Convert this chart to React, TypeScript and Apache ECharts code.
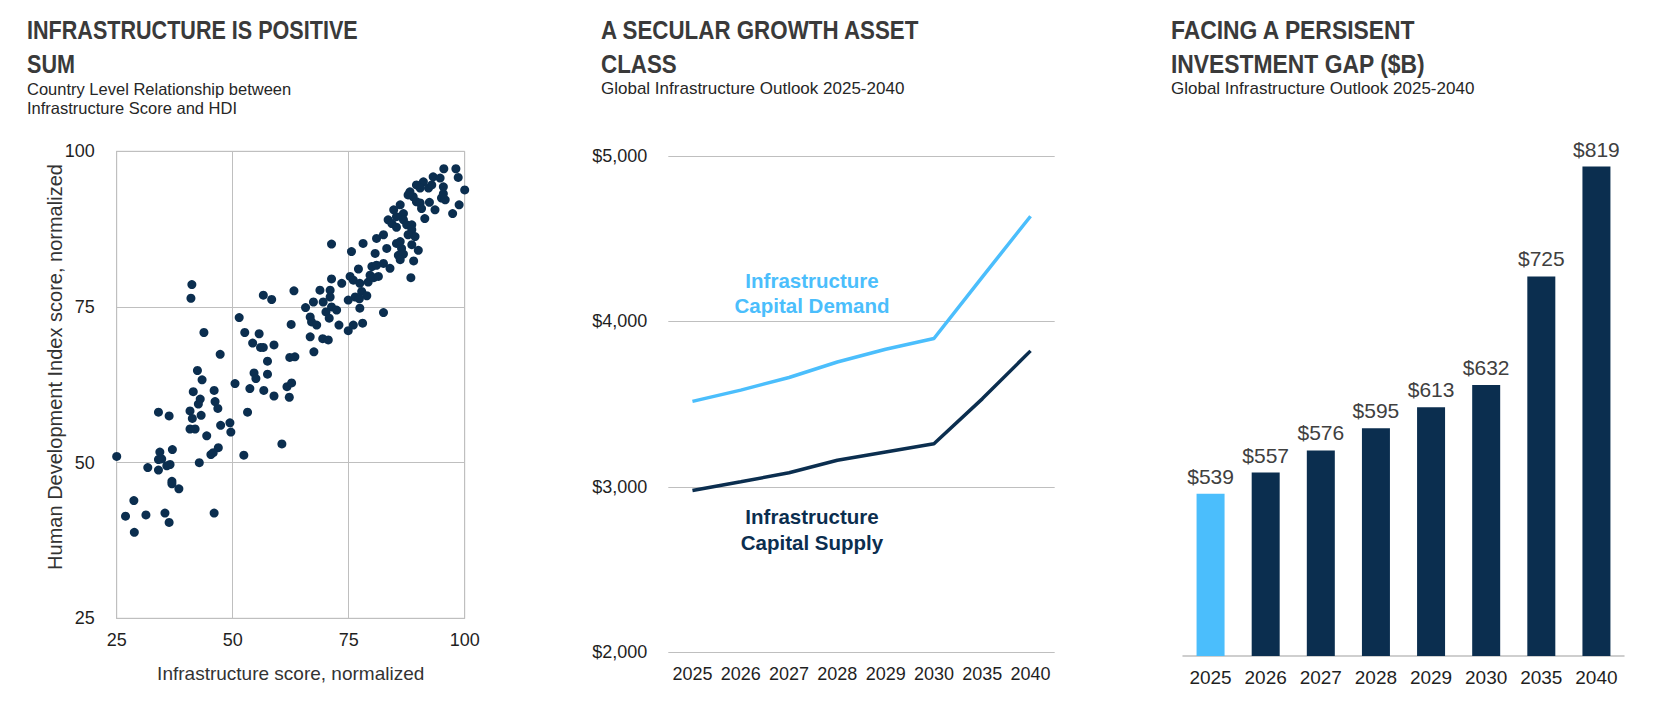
import React, { useEffect, useRef } from 'react';
import * as echarts from 'echarts';

// Palette
const NAVY = '#0B2E4F';
const SKY = '#4BBEFC';
const GRID_GREY = '#BFBFBF';
const TITLE_GREY = '#3A3A3A';
const TEXT_DARK = '#1F1F1F';

const SANS = "'Liberation Sans', Arial, sans-serif";

// Panel 1: infrastructure score (x) vs HDI score (y), one point per country
const countryPoints: [number, number][] = [
  [95.5, 97.2], [98.1, 97.2], [98.6, 95.8], [100.0, 93.8], [98.8, 91.4], [97.4, 90.0],
  [93.2, 95.9], [94.7, 95.7], [95.4, 94.3], [91.1, 95.1], [89.6, 94.6], [90.4, 94.1],
  [92.2, 94.1], [92.9, 94.6], [95.0, 92.5], [95.8, 92.2], [92.4, 91.8], [93.6, 90.6],
  [88.9, 92.7], [89.6, 91.9], [90.4, 91.7], [90.7, 90.8], [91.4, 89.2], [87.8, 93.0],
  [88.2, 93.5], [86.1, 91.4], [84.7, 90.6], [86.8, 90.0], [85.3, 89.5], [83.5, 89.0],
  [84.3, 88.4], [86.8, 89.0], [87.5, 88.2], [88.6, 88.2], [88.6, 87.4], [89.3, 86.3],
  [82.5, 86.6], [81.0, 86.0], [85.3, 85.2], [86.1, 85.5], [95.4, 93.2], [85.3, 87.8],
  [87.8, 86.6], [88.6, 85.0], [90.0, 84.1], [89.0, 82.4], [88.4, 79.7],
  [71.3, 85.1], [75.6, 83.9], [78.1, 85.2], [83.2, 84.4], [80.7, 83.6], [86.4, 84.4],
  [85.7, 83.3], [86.8, 83.5], [86.1, 82.6], [77.1, 81.1], [80.0, 81.5], [81.0, 81.7],
  [82.5, 82.0], [83.9, 81.2], [75.3, 79.9], [76.0, 79.3], [77.4, 78.8], [79.2, 79.0],
  [79.6, 80.1], [80.4, 79.7], [81.4, 79.9], [71.3, 79.5], [73.5, 78.8], [68.8, 77.7],
  [71.0, 77.7], [71.0, 76.6], [67.4, 75.8], [69.5, 75.8], [74.9, 76.1], [76.4, 76.6],
  [77.8, 77.5], [78.9, 76.8], [82.5, 74.1], [77.3, 76.3], [65.7, 74.9], [71.3, 75.0],
  [72.4, 74.5], [70.1, 74.2], [70.8, 73.2], [66.7, 73.4], [67.0, 72.6], [68.1, 72.1],
  [72.9, 72.1], [74.9, 71.2], [76.0, 72.1], [78.0, 72.4], [77.4, 74.8], [62.6, 72.2],
  [66.7, 70.2], [69.4, 69.9], [70.6, 69.7], [67.5, 67.8], [63.2, 77.6], [56.6, 76.9],
  [58.4, 76.2], [41.2, 78.6], [41.0, 76.4], [51.4, 73.3], [43.8, 70.9], [52.6, 70.9],
  [55.7, 70.7], [54.3, 69.2], [56.0, 68.5], [56.6, 68.5], [58.9, 68.9], [62.3, 66.9],
  [63.4, 67.0], [57.5, 66.3], [47.3, 67.4], [42.4, 64.8], [43.4, 63.3], [54.6, 64.4],
  [55.0, 63.5], [57.5, 64.2], [50.5, 62.7], [41.5, 61.4], [46.0, 61.6], [53.7, 61.9],
  [56.7, 61.6], [58.9, 60.7], [62.2, 60.5], [61.7, 62.2], [62.7, 62.8], [43.0, 60.2],
  [42.6, 59.4], [46.2, 59.8], [46.8, 58.7], [34.0, 58.1], [36.3, 57.5], [40.8, 58.3],
  [41.3, 57.1], [43.2, 57.6], [53.2, 58.1], [47.4, 56.0], [49.4, 56.4], [49.6, 54.9],
  [40.8, 55.4], [41.9, 55.4], [44.4, 54.3], [60.6, 53.0], [46.9, 52.4], [45.3, 51.3],
  [45.8, 51.6], [52.4, 51.2], [37.0, 52.1], [34.3, 51.7], [34.0, 50.5], [34.7, 50.6],
  [36.5, 49.7], [35.8, 49.5], [25.0, 51.0], [31.7, 49.2], [34.0, 48.8], [42.8, 50.0],
  [36.9, 47.0], [36.9, 46.6], [38.4, 45.8], [28.7, 43.9], [26.9, 41.4], [31.3, 41.6],
  [35.4, 41.9], [36.3, 40.4], [46.0, 41.9], [28.8, 38.8],
];
const scoreTicks = { min: 25, max: 100, interval: 25 };

// Panel 2: capital demand vs supply ($B)
const outlookYears = ['2025', '2026', '2027', '2028', '2029', '2030', '2035', '2040'];
const capitalDemand = [3517, 3585, 3661, 3755, 3832, 3897, 4268, 4636];
const capitalSupply = [2978, 3031, 3085, 3161, 3211, 3261, 3532, 3822];

// Panel 3: investment gap ($B)
const investmentGap = [539, 557, 576, 595, 613, 632, 725, 819];

function dollars(v: number): string {
  return '$' + v.toLocaleString('en-US');
}

// Condensed bold heading plus a regular subtitle underneath
function titleBlock(x: number, heading: string, squeeze: number, sub: string, subSize: number) {
  return [
    {
      type: 'text',
      x,
      y: 13,
      scaleX: squeeze,
      style: {
        text: heading,
        fontFamily: SANS,
        fontWeight: 'bold',
        fontSize: 26,
        lineHeight: 34,
        fill: TITLE_GREY,
        align: 'left',
        verticalAlign: 'top',
      },
    },
    {
      type: 'text',
      x,
      y: 79,
      style: {
        text: sub,
        fontFamily: SANS,
        fontSize: subSize,
        lineHeight: 19.5,
        fill: '#262626',
        align: 'left',
        verticalAlign: 'top',
      },
    },
  ];
}

export default function App() {
  const ref = useRef<HTMLDivElement>(null);

  useEffect(() => {
    if (!ref.current) return;
    const chart = echarts.init(ref.current, undefined, { renderer: 'svg' });

    const option: any = {
      animation: false,
      backgroundColor: '#ffffff',
      textStyle: { fontFamily: SANS },
      grid: [
        {
          left: 116.7, top: 151.3, width: 348, height: 467,
          show: true, borderColor: GRID_GREY, borderWidth: 1, backgroundColor: 'transparent',
        },
        { left: 668.3, top: 156, width: 386.4, height: 496.3 },
        { left: 1183, top: 72, width: 441, height: 584 },
      ],
      xAxis: [
        {
          gridIndex: 0, type: 'value', ...scoreTicks,
          axisLine: { show: true, lineStyle: { color: GRID_GREY } },
          axisTick: { show: false },
          splitLine: { show: true, lineStyle: { color: GRID_GREY } },
          axisLabel: { color: TEXT_DARK, fontSize: 18, margin: 13 },
        },
        {
          gridIndex: 1, type: 'category', data: outlookYears, boundaryGap: true,
          axisLine: { show: false }, axisTick: { show: false },
          axisLabel: { color: TEXT_DARK, fontSize: 18, margin: 13, interval: 0 },
        },
        {
          gridIndex: 2, type: 'category', data: outlookYears,
          axisLine: { show: true, lineStyle: { color: GRID_GREY, width: 1.5 } },
          axisTick: { show: false },
          axisLabel: { color: TEXT_DARK, fontSize: 19, margin: 12, interval: 0 },
        },
      ],
      yAxis: [
        {
          gridIndex: 0, type: 'value', ...scoreTicks,
          axisLine: { show: true, lineStyle: { color: GRID_GREY } },
          axisTick: { show: false },
          splitLine: { show: true, lineStyle: { color: GRID_GREY } },
          axisLabel: { color: TEXT_DARK, fontSize: 18, margin: 22 },
        },
        {
          gridIndex: 1, type: 'value', min: 2000, max: 5000, interval: 1000,
          axisLine: { show: false }, axisTick: { show: false },
          splitLine: { show: true, lineStyle: { color: GRID_GREY } },
          axisLabel: { color: TEXT_DARK, fontSize: 18, margin: 21, formatter: dollars },
        },
        {
          gridIndex: 2, type: 'value', min: 400, max: 900,
          show: false, splitLine: { show: false },
        },
      ],
      series: [
        {
          name: 'Countries',
          type: 'scatter',
          xAxisIndex: 0, yAxisIndex: 0,
          data: countryPoints,
          symbolSize: 9,
          itemStyle: { color: NAVY, opacity: 1 },
        },
        {
          name: 'Infrastructure Capital Demand',
          type: 'line',
          xAxisIndex: 1, yAxisIndex: 1,
          data: capitalDemand,
          symbol: 'none',
          lineStyle: { color: SKY, width: 3.5 },
        },
        {
          name: 'Infrastructure Capital Supply',
          type: 'line',
          xAxisIndex: 1, yAxisIndex: 1,
          data: capitalSupply,
          symbol: 'none',
          lineStyle: { color: NAVY, width: 3.5 },
        },
        {
          name: 'Investment Gap',
          type: 'bar',
          xAxisIndex: 2, yAxisIndex: 2,
          barWidth: 28,
          data: investmentGap.map((v, i) => ({
            value: v,
            itemStyle: { color: i === 0 ? SKY : NAVY },
          })),
          label: {
            show: true,
            position: 'top',
            distance: 7,
            fontSize: 21,
            color: '#404040',
            formatter: (p: any) => dollars(p.value),
          },
        },
      ],
      graphic: [
        ...titleBlock(27, 'INFRASTRUCTURE IS POSITIVE\nSUM', 0.83, 'Country Level Relationship between\nInfrastructure Score and HDI', 16.5),
        ...titleBlock(601, 'A SECULAR GROWTH ASSET\nCLASS', 0.86, 'Global Infrastructure Outlook 2025-2040', 17),
        ...titleBlock(1171, 'FACING A PERSISENT\nINVESTMENT GAP ($B)', 0.88, 'Global Infrastructure Outlook 2025-2040', 17),
        {
          type: 'text',
          x: 290.7,
          y: 673,
          style: {
            text: 'Infrastructure score, normalized',
            fontFamily: SANS, fontSize: 19, fill: '#333333',
            align: 'center', verticalAlign: 'middle',
          },
        },
        {
          type: 'text',
          x: 55,
          y: 367,
          rotation: Math.PI / 2,
          style: {
            text: 'Human Development Index score, normalized',
            fontFamily: SANS, fontSize: 20, fill: '#333333',
            align: 'center', verticalAlign: 'middle',
          },
        },
        {
          type: 'text',
          x: 812,
          y: 292.5,
          style: {
            text: 'Infrastructure\nCapital Demand',
            fontFamily: SANS, fontWeight: 'bold', fontSize: 20.5, lineHeight: 25,
            fill: SKY, align: 'center', verticalAlign: 'middle',
          },
        },
        {
          type: 'text',
          x: 812,
          y: 529,
          style: {
            text: 'Infrastructure\nCapital Supply',
            fontFamily: SANS, fontWeight: 'bold', fontSize: 20.5, lineHeight: 26,
            fill: NAVY, align: 'center', verticalAlign: 'middle',
          },
        },
      ],
    };

    chart.setOption(option);
    return () => chart.dispose();
  }, []);

  return (
    <div
      ref={ref}
      style={{ position: 'fixed', left: 0, top: 0, width: 1654, height: 710, background: '#fff' }}
    />
  );
}
